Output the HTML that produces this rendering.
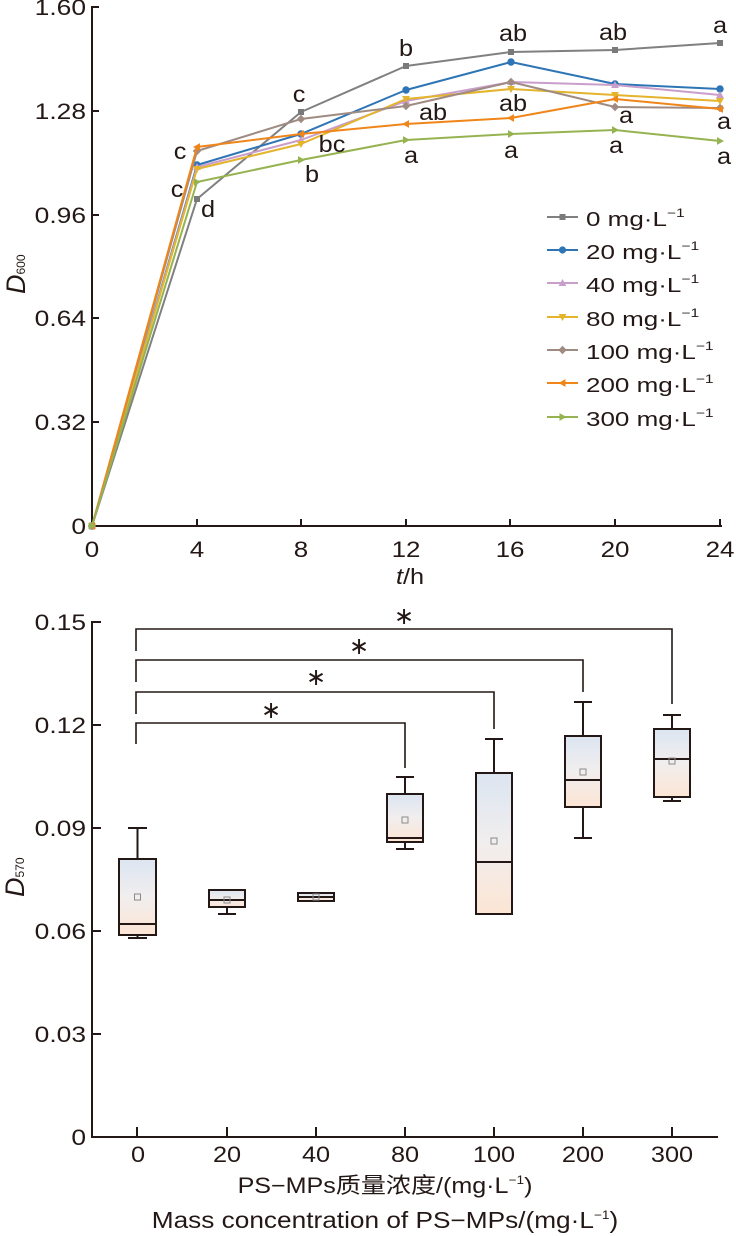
<!DOCTYPE html>
<html>
<head>
<meta charset="utf-8">
<style>
  html,body{margin:0;padding:0;background:#fff;}
  svg{display:block;}
  text{font-family:"Liberation Sans","Noto Sans CJK SC",sans-serif;fill:#231815;}
</style>
</head>
<body>
<svg width="736" height="1236" viewBox="0 0 736 1236" xmlns="http://www.w3.org/2000/svg">
<defs>
  <marker id="mSq" viewBox="-5 -5 10 10" markerWidth="10" markerHeight="10" refX="0" refY="0" markerUnits="userSpaceOnUse" orient="0"><rect x="-3" y="-3" width="6" height="6" fill="#7a7a7a"/></marker>
  <marker id="mCi" viewBox="-5 -5 10 10" markerWidth="10" markerHeight="10" refX="0" refY="0" markerUnits="userSpaceOnUse" orient="0"><circle r="3.7" fill="#2e75b6"/></marker>
  <marker id="mUp" viewBox="-5 -5 10 10" markerWidth="10" markerHeight="10" refX="0" refY="0" markerUnits="userSpaceOnUse" orient="0"><polygon points="0,-4 3.9,3 -3.9,3" fill="#c99ecb"/></marker>
  <marker id="mDn" viewBox="-5 -5 10 10" markerWidth="10" markerHeight="10" refX="0" refY="0" markerUnits="userSpaceOnUse" orient="0"><polygon points="0,4 3.9,-3 -3.9,-3" fill="#e3b42c"/></marker>
  <marker id="mDi" viewBox="-5 -5 10 10" markerWidth="10" markerHeight="10" refX="0" refY="0" markerUnits="userSpaceOnUse" orient="0"><polygon points="0,-4.2 4.2,0 0,4.2 -4.2,0" fill="#a08b83"/></marker>
  <marker id="mLf" viewBox="-5 -5 10 10" markerWidth="10" markerHeight="10" refX="0" refY="0" markerUnits="userSpaceOnUse" orient="0"><polygon points="-4,0 3,-3.9 3,3.9" fill="#f08519"/></marker>
  <marker id="mRt" viewBox="-5 -5 10 10" markerWidth="10" markerHeight="10" refX="0" refY="0" markerUnits="userSpaceOnUse" orient="0"><polygon points="4,0 -3,-3.9 -3,3.9" fill="#95b350"/></marker>
  <linearGradient id="bg" x1="0" y1="0" x2="0" y2="1">
    <stop offset="0" stop-color="#dce5f1"/>
    <stop offset="0.5" stop-color="#f1eeee"/>
    <stop offset="1" stop-color="#fce5d4"/>
  </linearGradient>
</defs>

<!-- ================= TOP CHART ================= -->
<g stroke="#231815" stroke-width="2" fill="none">
  <line x1="92" y1="6" x2="92" y2="527"/>
  <line x1="91" y1="526" x2="722" y2="526"/>
  <line x1="92" y1="7" x2="99" y2="7"/>
  <line x1="92" y1="111" x2="99" y2="111"/>
  <line x1="92" y1="215" x2="99" y2="215"/>
  <line x1="92" y1="318" x2="99" y2="318"/>
  <line x1="92" y1="422" x2="99" y2="422"/>
  <line x1="197" y1="526" x2="197" y2="519"/>
  <line x1="301" y1="526" x2="301" y2="519"/>
  <line x1="406" y1="526" x2="406" y2="519"/>
  <line x1="510" y1="526" x2="510" y2="519"/>
  <line x1="615" y1="526" x2="615" y2="519"/>
  <line x1="720" y1="526" x2="720" y2="519"/>
</g>

<g font-size="22">
  <text transform="translate(86,15) scale(1.2,1)" text-anchor="end">1.60</text>
  <text transform="translate(86,119) scale(1.2,1)" text-anchor="end">1.28</text>
  <text transform="translate(86,223) scale(1.2,1)" text-anchor="end">0.96</text>
  <text transform="translate(86,326) scale(1.2,1)" text-anchor="end">0.64</text>
  <text transform="translate(86,430) scale(1.2,1)" text-anchor="end">0.32</text>
  <text transform="translate(86,534) scale(1.2,1)" text-anchor="end">0</text>
</g>
<g font-size="22" text-anchor="middle">
  <text transform="translate(92,557) scale(1.18,1)">0</text>
  <text transform="translate(197,557) scale(1.18,1)">4</text>
  <text transform="translate(301,557) scale(1.18,1)">8</text>
  <text transform="translate(406,557) scale(1.18,1)">12</text>
  <text transform="translate(510,557) scale(1.18,1)">16</text>
  <text transform="translate(615,557) scale(1.18,1)">20</text>
  <text transform="translate(720,557) scale(1.18,1)">24</text>
</g>
<text transform="translate(410,584) scale(1.15,1)" font-size="22" text-anchor="middle"><tspan font-style="italic">t</tspan>/h</text>
<text transform="translate(25,294) rotate(-90)" font-size="27"><tspan font-style="italic">D</tspan><tspan font-size="12">600</tspan></text>

<g fill="none" stroke-width="2" stroke-linejoin="round">
  <polyline stroke="#808080" marker-start="url(#mSq)" marker-mid="url(#mSq)" marker-end="url(#mSq)" points="92,526 197,199 301,112 406,66 511,52 615,50 720,43"/>
  <polyline stroke="#2e75b6" marker-start="url(#mCi)" marker-mid="url(#mCi)" marker-end="url(#mCi)" points="92,526 197,165 301,134 406,90 511,62 615,84 720,89"/>
  <polyline stroke="#c99ecb" marker-start="url(#mUp)" marker-mid="url(#mUp)" marker-end="url(#mUp)" points="92,526 197,167 301,140 406,101 511,82 615,85 720,95"/>
  <polyline stroke="#e3b42c" marker-start="url(#mDn)" marker-mid="url(#mDn)" marker-end="url(#mDn)" points="92,526 197,169 301,144 406,99 511,89 615,95 720,101"/>
  <polyline stroke="#a08b83" marker-start="url(#mDi)" marker-mid="url(#mDi)" marker-end="url(#mDi)" points="92,526 197,151 301,119 406,106 511,82 615,107 720,108"/>
  <polyline stroke="#f08519" marker-start="url(#mLf)" marker-mid="url(#mLf)" marker-end="url(#mLf)" points="92,526 197,147 301,134 406,124 511,118 615,99 720,109"/>
  <polyline stroke="#95b350" marker-start="url(#mRt)" marker-mid="url(#mRt)" marker-end="url(#mRt)" points="92,526 197,182 301,160 406,140 511,134 615,130 720,141"/>
</g>

<g font-size="23" text-anchor="middle">
  <text transform="translate(180,159) scale(1.1,1)">c</text>
  <text transform="translate(177,197) scale(1.1,1)">c</text>
  <text transform="translate(208,217) scale(1.1,1)">d</text>
  <text transform="translate(299,102) scale(1.1,1)">c</text>
  <text transform="translate(332,152) scale(1.1,1)">bc</text>
  <text transform="translate(312,182) scale(1.1,1)">b</text>
  <text transform="translate(406,56) scale(1.1,1)">b</text>
  <text transform="translate(433,120) scale(1.1,1)">ab</text>
  <text transform="translate(411,163) scale(1.1,1)">a</text>
  <text transform="translate(513,41) scale(1.1,1)">ab</text>
  <text transform="translate(513,111) scale(1.1,1)">ab</text>
  <text transform="translate(511,158) scale(1.1,1)">a</text>
  <text transform="translate(613,40) scale(1.1,1)">ab</text>
  <text transform="translate(626,123) scale(1.1,1)">a</text>
  <text transform="translate(616,153) scale(1.1,1)">a</text>
  <text transform="translate(720,33) scale(1.1,1)">a</text>
  <text transform="translate(724,129) scale(1.1,1)">a</text>
  <text transform="translate(724,164) scale(1.1,1)">a</text>
</g>

<!-- legend -->
<g stroke-width="2" fill="none">
  <line x1="547" y1="217" x2="578" y2="217" stroke="#808080"/>
  <line x1="547" y1="250" x2="578" y2="250" stroke="#2e75b6"/>
  <line x1="547" y1="283" x2="578" y2="283" stroke="#c99ecb"/>
  <line x1="547" y1="317" x2="578" y2="317" stroke="#e3b42c"/>
  <line x1="547" y1="350" x2="578" y2="350" stroke="#a08b83"/>
  <line x1="547" y1="383" x2="578" y2="383" stroke="#f08519"/>
  <line x1="547" y1="417" x2="578" y2="417" stroke="#95b350"/>
</g>
<rect x="559.5" y="214" width="6" height="6" fill="#7a7a7a"/>
<circle cx="562.5" cy="250" r="3.6" fill="#2e75b6"/>
<polygon points="562.5,279 566.4,286 558.6,286" fill="#c99ecb"/>
<polygon points="562.5,321 566.4,314 558.6,314" fill="#e3b42c"/>
<polygon points="562.5,345.8 566.7,350 562.5,354.2 558.3,350" fill="#a08b83"/>
<polygon points="558.5,383 565.5,379.1 565.5,386.9" fill="#f08519"/>
<polygon points="566.5,417 559.5,413.1 559.5,420.9" fill="#95b350"/>
<g font-size="20">
  <text transform="translate(586,226) scale(1.3,1)">0 mg·L<tspan font-size="12" dy="-9">−1</tspan></text>
  <text transform="translate(586,259) scale(1.3,1)">20 mg·L<tspan font-size="12" dy="-9">−1</tspan></text>
  <text transform="translate(586,292) scale(1.3,1)">40 mg·L<tspan font-size="12" dy="-9">−1</tspan></text>
  <text transform="translate(586,326) scale(1.3,1)">80 mg·L<tspan font-size="12" dy="-9">−1</tspan></text>
  <text transform="translate(586,359) scale(1.3,1)">100 mg·L<tspan font-size="12" dy="-9">−1</tspan></text>
  <text transform="translate(586,392) scale(1.3,1)">200 mg·L<tspan font-size="12" dy="-9">−1</tspan></text>
  <text transform="translate(586,426) scale(1.3,1)">300 mg·L<tspan font-size="12" dy="-9">−1</tspan></text>
</g>

<!-- ================= BOTTOM CHART ================= -->
<g stroke="#231815" stroke-width="2" fill="none">
  <line x1="92" y1="621" x2="92" y2="1138"/>
  <line x1="91" y1="1137" x2="718" y2="1137"/>
  <line x1="92" y1="622" x2="101" y2="622"/>
  <line x1="92" y1="725" x2="101" y2="725"/>
  <line x1="92" y1="828" x2="101" y2="828"/>
  <line x1="92" y1="931" x2="101" y2="931"/>
  <line x1="92" y1="1034" x2="101" y2="1034"/>
  <line x1="137" y1="1137" x2="137" y2="1127"/>
  <line x1="227" y1="1137" x2="227" y2="1127"/>
  <line x1="316" y1="1137" x2="316" y2="1127"/>
  <line x1="405" y1="1137" x2="405" y2="1127"/>
  <line x1="494" y1="1137" x2="494" y2="1127"/>
  <line x1="583" y1="1137" x2="583" y2="1127"/>
  <line x1="672" y1="1137" x2="672" y2="1127"/>
</g>
<g font-size="22">
  <text transform="translate(86,630) scale(1.2,1)" text-anchor="end">0.15</text>
  <text transform="translate(86,733) scale(1.2,1)" text-anchor="end">0.12</text>
  <text transform="translate(86,836) scale(1.2,1)" text-anchor="end">0.09</text>
  <text transform="translate(86,939) scale(1.2,1)" text-anchor="end">0.06</text>
  <text transform="translate(86,1042) scale(1.2,1)" text-anchor="end">0.03</text>
  <text transform="translate(86,1145) scale(1.2,1)" text-anchor="end">0</text>
</g>
<g font-size="22" text-anchor="middle">
  <text transform="translate(138,1162) scale(1.15,1)">0</text>
  <text transform="translate(227,1162) scale(1.15,1)">20</text>
  <text transform="translate(316,1162) scale(1.15,1)">40</text>
  <text transform="translate(405,1162) scale(1.15,1)">80</text>
  <text transform="translate(494,1162) scale(1.15,1)">100</text>
  <text transform="translate(583,1162) scale(1.15,1)">200</text>
  <text transform="translate(672,1162) scale(1.15,1)">300</text>
</g>
<text transform="translate(385,1193) scale(1.14,1)" font-size="22" text-anchor="middle">PS−MPs质量浓度/(mg·L<tspan font-size="12" dy="-9">−1</tspan><tspan dy="9">)</tspan></text>
<text transform="translate(385,1228) scale(1.14,1)" font-size="23" text-anchor="middle">Mass concentration of PS−MPs/(mg·L<tspan font-size="12" dy="-9">−1</tspan><tspan dy="9">)</tspan></text>
<text transform="translate(24,897) rotate(-90)" font-size="27"><tspan font-style="italic">D</tspan><tspan font-size="12">570</tspan></text>

<g stroke="#231815" stroke-width="1.6" fill="none">
  <path d="M136,744 V723 H405 V768"/>
  <path d="M136,714 V692 H494 V729"/>
  <path d="M136,682 V660 H583 V692"/>
  <path d="M136,651 V629 H672 V704"/>
</g>
<g font-size="24" text-anchor="middle">
  <text x="271" y="718" style="font-family:'DejaVu Sans',sans-serif">∗</text>
  <text x="316" y="685" style="font-family:'DejaVu Sans',sans-serif">∗</text>
  <text x="359" y="654" style="font-family:'DejaVu Sans',sans-serif">∗</text>
  <text x="404" y="624" style="font-family:'DejaVu Sans',sans-serif">∗</text>
</g>

<g stroke="#231815" stroke-width="2">
  <line x1="137.5" y1="828" x2="137.5" y2="859"/>
  <line x1="128" y1="828" x2="147" y2="828"/>
  <line x1="137.5" y1="935" x2="137.5" y2="938"/>
  <line x1="128" y1="938" x2="147" y2="938"/>
  <rect x="119" y="859" width="37" height="76" fill="url(#bg)"/>
  <line x1="119" y1="924" x2="156" y2="924"/>
  <line x1="227" y1="907" x2="227" y2="914"/>
  <line x1="218" y1="914" x2="236" y2="914"/>
  <rect x="209" y="890" width="36" height="17" fill="url(#bg)"/>
  <line x1="209" y1="900" x2="245" y2="900"/>
  <rect x="298" y="893" width="36" height="8" fill="url(#bg)"/>
  <line x1="298" y1="897" x2="334" y2="897"/>
  <line x1="405" y1="777" x2="405" y2="794"/>
  <line x1="396" y1="777" x2="414" y2="777"/>
  <line x1="405" y1="842" x2="405" y2="849"/>
  <line x1="396" y1="849" x2="414" y2="849"/>
  <rect x="387" y="794" width="36" height="48" fill="url(#bg)"/>
  <line x1="387" y1="838" x2="423" y2="838"/>
  <line x1="494" y1="739" x2="494" y2="773"/>
  <line x1="485" y1="739" x2="503" y2="739"/>
  <rect x="476" y="773" width="36" height="141" fill="url(#bg)"/>
  <line x1="476" y1="862" x2="512" y2="862"/>
  <line x1="583" y1="702" x2="583" y2="736"/>
  <line x1="574" y1="702" x2="592" y2="702"/>
  <line x1="583" y1="807" x2="583" y2="838"/>
  <line x1="574" y1="838" x2="592" y2="838"/>
  <rect x="565" y="736" width="36" height="71" fill="url(#bg)"/>
  <line x1="565" y1="780" x2="601" y2="780"/>
  <line x1="672" y1="715" x2="672" y2="729"/>
  <line x1="663" y1="715" x2="681" y2="715"/>
  <line x1="672" y1="797" x2="672" y2="801"/>
  <line x1="663" y1="801" x2="681" y2="801"/>
  <rect x="654" y="729" width="36" height="68" fill="url(#bg)"/>
  <line x1="654" y1="759" x2="690" y2="759"/>
</g>
<g fill="none" stroke="#8a8a8a" stroke-width="1">
  <rect x="134.5" y="894" width="6" height="6"/>
  <rect x="224" y="897" width="6" height="6"/>
  <rect x="313" y="894" width="6" height="6"/>
  <rect x="402" y="817" width="6" height="6"/>
  <rect x="491" y="838" width="6" height="6"/>
  <rect x="580" y="769" width="6" height="6"/>
  <rect x="669" y="758" width="6" height="6"/>
</g>
</svg>
</body>
</html>
